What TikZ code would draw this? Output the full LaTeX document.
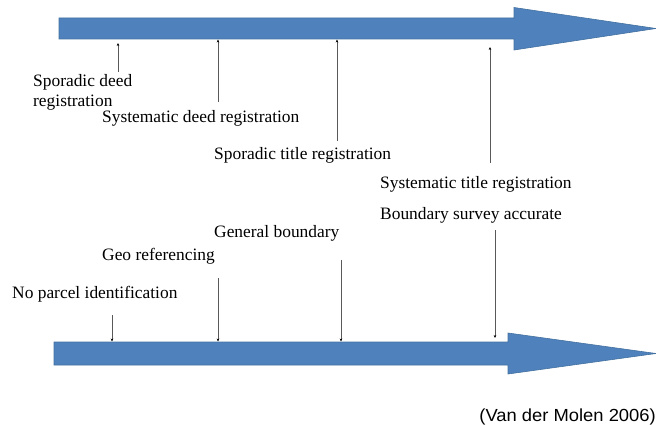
\documentclass[tikz,border=0pt]{standalone}
\usepackage{fontspec}
\setmainfont{Liberation Serif}
\newfontfamily\capfont[FakeStretch=1.05]{Liberation Sans}
\usetikzlibrary{arrows.meta}
\definecolor{arrowblue}{HTML}{4F81BD}
\definecolor{arrowedge}{HTML}{42709F}
\tikzset{
  bigarrow/.style={fill=arrowblue, draw=arrowedge, line width=0.6pt},
  lbl/.style={anchor=west, inner sep=0pt, font=\fontsize{17.4}{20}\selectfont, align=left},
  marker/.style={draw=gray!70!black, line width=0.9pt, -{Stealth[length=3pt,width=2.6pt,black]}},
  srccap/.style={anchor=east, inner sep=0pt, font=\capfont\fontsize{17.5}{20}\selectfont}
}
\begin{document}
\begin{tikzpicture}[x=1pt,y=-1pt]
\useasboundingbox (0,0) rectangle (656,425);
% top time line
\path[bigarrow] (59,18) -- (514,18) -- (514,7.5) -- (656,28.5) -- (514,50) -- (514,39) -- (59,39) -- cycle;
% bottom time line
\path[bigarrow] (54,342) -- (508,342) -- (508,333) -- (656,353.5) -- (508,374) -- (508,365) -- (54,365) -- cycle;

% labels
\node[lbl] (sdr) at (33,92) {Sporadic deed\\registration};
\node[lbl] (sydr) at (102,118) {Systematic deed registration};
\node[lbl] (str) at (214,155) {Sporadic title registration};
\node[lbl] (sytr) at (380,184) {Systematic title registration};
\node[lbl] (bsa) at (380,215) {Boundary survey accurate};
\node[lbl] (gb) at (214,233) {General boundary};
\node[lbl] (geo) at (102,256) {Geo referencing};
\node[lbl] (npi) at (12,294) {No parcel identification};
\node[srccap] (src) at (656,417) {(Van der Molen 2006)};

% marker coordinates
\coordinate (t1a) at (118,72);  \coordinate (t1b) at (118,43);
\coordinate (t2a) at (218,102); \coordinate (t2b) at (218,39.5);
\coordinate (t3a) at (337,141); \coordinate (t3b) at (337,39.5);
\coordinate (t4a) at (490,163); \coordinate (t4b) at (490,47);
\coordinate (b1a) at (112,315); \coordinate (b1b) at (112,341.5);
\coordinate (b2a) at (218,278); \coordinate (b2b) at (218,341.5);
\coordinate (b3a) at (341,260); \coordinate (b3b) at (341,341.5);
\coordinate (b4a) at (495,230); \coordinate (b4b) at (495,338);

\draw[marker] (t1a) -- (t1b);
\draw[marker] (t2a) -- (t2b);
\draw[marker] (t3a) -- (t3b);
\draw[marker] (t4a) -- (t4b);
\draw[marker] (b1a) -- (b1b);
\draw[marker] (b2a) -- (b2b);
\draw[marker] (b3a) -- (b3b);
\draw[marker] (b4a) -- (b4b);
\end{tikzpicture}
\end{document}
